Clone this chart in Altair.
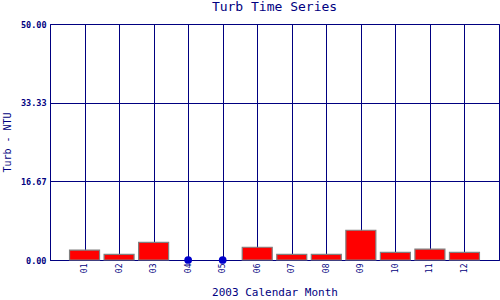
import altair as alt
import pandas as pd

months = [1, 2, 3, 4, 5, 6, 7, 8, 9, 10, 11, 12]
turb = [2.1, 1.2, 3.75, 0.0, 0.0, 2.7, 1.2, 1.2, 6.3, 1.6, 2.3, 1.6]

df = pd.DataFrame({"month": months, "turb": turb})

NAVY = "#000080"
FONT = "DejaVu Sans Mono"

xscale = alt.Scale(domain=[0, 13], nice=False, zero=False, padding=0)
yscale = alt.Scale(domain=[0, 50], nice=False, padding=0)

xaxis = alt.Axis(
    values=months,
    labelExpr="datum.value < 10 ? '0' + datum.value : '' + datum.value",
    labelAngle=270,
    labelAlign="right",
    labelBaseline="middle",
    labelFont=FONT, labelFontSize=8, labelColor=NAVY,
    ticks=False, labelPadding=3,
    grid=True, gridColor=NAVY, gridWidth=1, gridOpacity=1,
    domainColor=NAVY,
    title="2003 Calendar Month", titleFont=FONT, titleFontSize=11,
    titleFontWeight="normal", titleColor=NAVY, titlePadding=14,
)
yaxis = alt.Axis(
    values=[0, 50 / 3, 100 / 3, 50],
    format=".2f",
    labelFont=FONT, labelFontSize=8.5, labelFontWeight="bold", labelColor=NAVY,
    ticks=False, labelPadding=4,
    grid=True, gridColor=NAVY, gridWidth=1, gridOpacity=1,
    domainColor=NAVY,
    title="Turb - NTU", titleFont=FONT, titleFontSize=10,
    titleFontWeight="normal", titleColor=NAVY, titlePadding=8,
)

base = alt.Chart(df)

bars = base.transform_filter("datum.turb > 0").mark_bar(
    size=30, color="#ff0000", stroke="#808080", strokeWidth=1.2
).encode(
    x=alt.X("month:Q", scale=xscale, axis=xaxis),
    y=alt.Y("turb:Q", scale=yscale, axis=yaxis),
)

dots = base.transform_filter("datum.turb <= 0").mark_point(
    filled=True, size=60, color="#0000cc", opacity=1
).encode(
    x=alt.X("month:Q", scale=xscale),
    y=alt.Y("turb:Q", scale=yscale),
)

chart = alt.layer(bars, dots).properties(
    width=449, height=236,
    padding={"left": 50, "top": 24, "right": 1, "bottom": 40},
    autosize=alt.AutoSizeParams(type="none"),
    title=alt.TitleParams("Turb Time Series", font=FONT, fontSize=13,
                          fontWeight="normal", color=NAVY, offset=6),
    background="white",
).configure_view(stroke=NAVY, strokeWidth=1)

chart.save("out.html", embed_options={"renderer": "svg", "actions": False})
